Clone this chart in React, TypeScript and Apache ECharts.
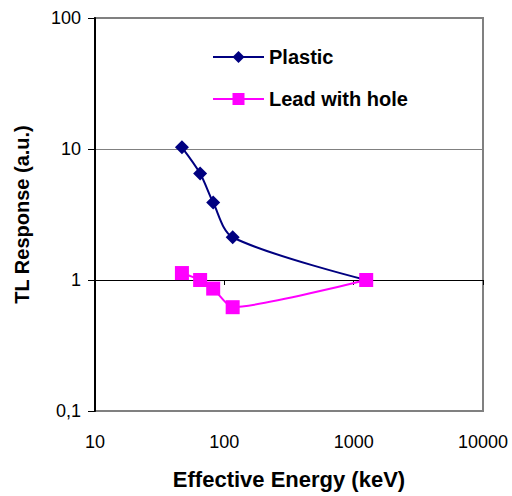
import React, { useEffect, useRef } from "react";
import * as echarts from "echarts";

const energies = [47, 65, 82, 116, 1250];
const plastic = [10.3, 6.5, 3.9, 2.12, 1.0];
const leadWithHole = [1.13, 1.0, 0.86, 0.62, 1.0];
const seriesNames = ["Plastic", "Lead with hole"];

const FONT = "'Liberation Sans', Arial, sans-serif";

export default function App() {
  const ref = useRef<HTMLDivElement>(null);
  useEffect(() => {
    if (!ref.current) return;
    const chart = echarts.init(ref.current, undefined, { renderer: "svg" });
    chart.setOption({
      animation: false,
      backgroundColor: "#ffffff",
      textStyle: { fontFamily: FONT },
      grid: {
        left: 95,
        right: 29,
        top: 18,
        bottom: 85,
        show: true,
        borderColor: "#808080",
        borderWidth: 2,
        backgroundColor: "transparent",
      },
      legend: {
        orient: "vertical",
        left: 207,
        top: 42,
        itemWidth: 51,
        itemHeight: 15,
        itemGap: 22,
        data: seriesNames,
        textStyle: { fontFamily: FONT, fontSize: 20, fontWeight: "bold", color: "#000" },
      },
      xAxis: [
        {
          type: "log",
          logBase: 10,
          min: 10,
          max: 10000,
          position: "bottom",
          name: "Effective Energy (keV)",
          nameLocation: "middle",
          nameGap: 57,
          nameTextStyle: { fontFamily: FONT, fontSize: 22, fontWeight: "bold", color: "#000" },
          axisLine: { show: false },
          axisTick: { show: false },
          splitLine: { show: false },
          axisLabel: {
            margin: 22,
            fontFamily: FONT,
            fontSize: 18,
            color: "#000",
            formatter: (v: number) => String(v),
          },
        },
        {
          type: "log",
          logBase: 10,
          min: 10,
          max: 10000,
          position: "top",
          offset: -262,
          axisLine: { show: true, lineStyle: { color: "#000", width: 1 } },
          axisTick: { show: true, inside: true, length: 5, lineStyle: { color: "#000" } },
          axisLabel: { show: false },
          splitLine: { show: false },
        },
      ],
      yAxis: {
        type: "log",
        logBase: 10,
        min: 0.1,
        max: 100,
        name: "TL Response (a.u.)",
        nameLocation: "middle",
        nameGap: 63,
        nameTextStyle: { fontFamily: FONT, fontSize: 20, fontWeight: "bold", color: "#000" },
        axisLine: { show: true, lineStyle: { color: "#000", width: 2 } },
        axisTick: { show: true, length: 7, lineStyle: { color: "#000" } },
        axisLabel: {
          margin: 14,
          fontFamily: FONT,
          fontSize: 18,
          color: "#000",
          formatter: (v: number) => String(v).replace(".", ","),
        },
        splitLine: {
          show: true,
          lineStyle: { color: ["#808080", "#000000", "#808080", "#808080"], width: 1 },
        },
      },
      series: [
        {
          name: seriesNames[0],
          type: "line",
          data: energies.map((e, i) => [e, plastic[i]]),
          smooth: 0.3,
          symbol: "diamond",
          symbolSize: 14,
          itemStyle: { color: "#000080" },
          lineStyle: { color: "#000080", width: 2 },
        },
        {
          name: seriesNames[1],
          type: "line",
          data: energies.map((e, i) => [e, leadWithHole[i]]),
          smooth: 0.2,
          symbol: "rect",
          symbolSize: 14,
          itemStyle: { color: "#FF00FF" },
          lineStyle: { color: "#FF00FF", width: 2 },
        },
      ],
    });
    return () => chart.dispose();
  }, []);
  return (
    <div
      ref={ref}
      style={{ position: "absolute", left: 0, top: 0, width: 512, height: 496 }}
    />
  );
}
